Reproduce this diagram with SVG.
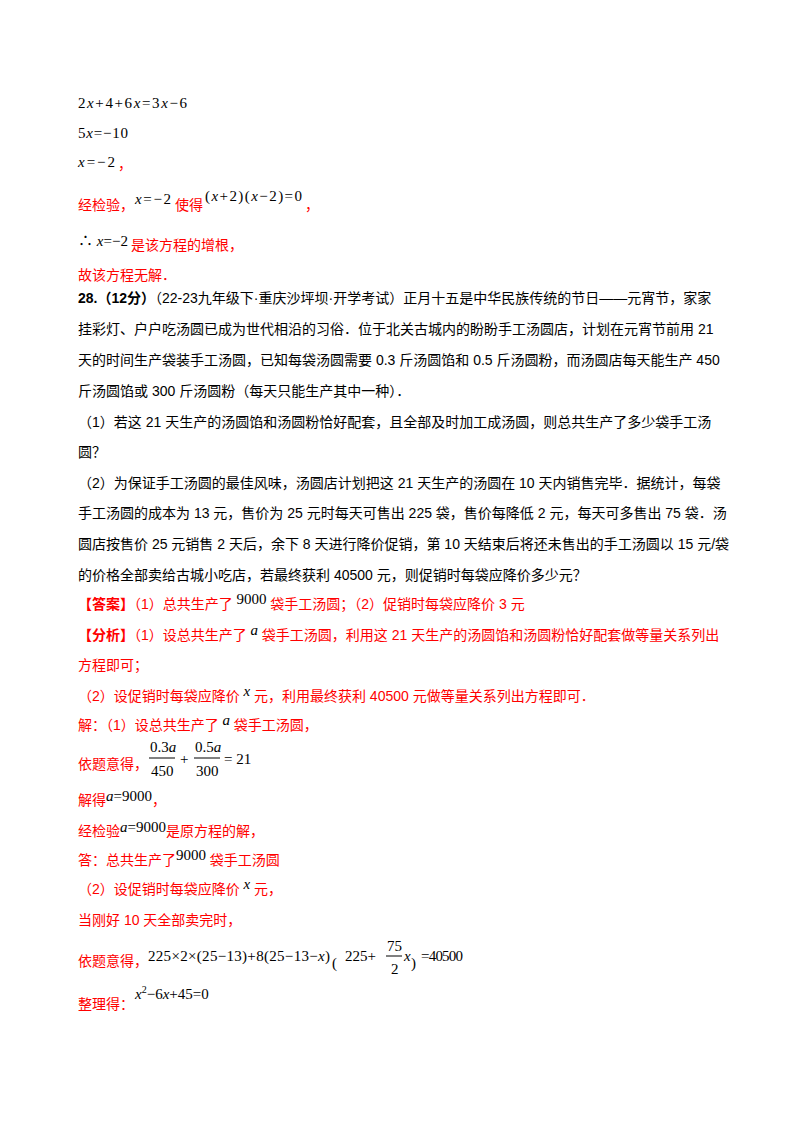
<svg xmlns="http://www.w3.org/2000/svg" width="800" height="1132" viewBox="0 0 800 1132">
<style>
text{font-family:"Liberation Sans","Noto Sans CJK SC",sans-serif;font-size:14px;fill:#000}
.r{fill:#ff0000}
.m{font-family:"Liberation Serif","Noto Sans CJK SC",serif;font-size:15px;fill:#000}
.i{font-style:italic}
.b{font-weight:bold}
</style>
<rect width="800" height="1132" fill="#fff"/>
<g id="top">
<text class="m" x="78" y="108" textLength="109">2<tspan class="i">x</tspan>+4+6<tspan class="i">x</tspan>=3<tspan class="i">x</tspan>−6</text>
<text class="m" x="78" y="138" textLength="50">5<tspan class="i">x</tspan>=−10</text>
<text class="m" x="78" y="167" textLength="37"><tspan class="i">x</tspan>=−2</text>
<text class="r" x="118" y="169">，</text>
<text class="r" x="78" y="210">经检验，</text>
<text class="m" x="135" y="204" textLength="36"><tspan class="i">x</tspan>=−2</text>
<text class="r" x="175" y="210">使得</text>
<text class="m" x="205" y="201" textLength="97">(<tspan class="i">x</tspan>+2)(<tspan class="i">x</tspan>−2)=0</text>
<text class="r" x="305" y="210">，</text>
<text class="m" x="78" y="246" textLength="50">∴ <tspan class="i">x</tspan>=−2</text>
<text class="r" x="131" y="250">是该方程的增根，</text>
<text class="r" x="78" y="280">故该方程无解．</text>
</g>
<g id="problem">
<text x="78" y="303"><tspan class="b">28.（12分）</tspan>（22-23九年级下·重庆沙坪坝·开学考试）正月十五是中华民族传统的节日——元宵节，家家</text>
<text x="78" y="334">挂彩灯、户户吃汤圆已成为世代相沿的习俗．位于北关古城内的盼盼手工汤圆店，计划在元宵节前用 21</text>
<text x="78" y="365">天的时间生产袋装手工汤圆，已知每袋汤圆需要 0.3 斤汤圆馅和 0.5 斤汤圆粉，而汤圆店每天能生产 450</text>
<text x="78" y="396">斤汤圆馅或 300 斤汤圆粉（每天只能生产其中一种）．</text>
<text x="78" y="427">（1）若这 21 天生产的汤圆馅和汤圆粉恰好配套，且全部及时加工成汤圆，则总共生产了多少袋手工汤</text>
<text x="78" y="457">圆？</text>
<text x="78" y="488">（2）为保证手工汤圆的最佳风味，汤圆店计划把这 21 天生产的汤圆在 10 天内销售完毕．据统计，每袋</text>
<text x="78" y="518">手工汤圆的成本为 13 元，售价为 25 元时每天可售出 225 袋，售价每降低 2 元，每天可多售出 75 袋．汤</text>
<text x="78" y="549">圆店按售价 25 元销售 2 天后，余下 8 天进行降价促销，第 10 天结束后将还未售出的手工汤圆以 15 元/袋</text>
<text x="78" y="580">的价格全部卖给古城小吃店，若最终获利 40500 元，则促销时每袋应降价多少元？</text>
</g>
<g id="answer">
<text class="r" x="78" y="609"><tspan class="b">【答案】</tspan>（1）总共生产了<tspan class="m" dy="-5"> 9000 </tspan><tspan dy="5">袋手工汤圆；（2）促销时每袋应降价 3 元</tspan></text>
<text class="r" x="78" y="640"><tspan class="b">【分析】</tspan>（1）设总共生产了<tspan class="m i" dy="-5"> a </tspan><tspan dy="5">袋手工汤圆，利用这 21 天生产的汤圆馅和汤圆粉恰好配套做等量关系列出</tspan></text>
<text class="r" x="78" y="670">方程即可；</text>
<text class="r" x="78" y="701">（2）设促销时每袋应降价<tspan class="m i" dy="-5"> x </tspan><tspan dy="5">元，利用最终获利 40500 元做等量关系列出方程即可．</tspan></text>
<text class="r" x="78" y="730">解：（1）设总共生产了<tspan class="m i" dy="-5"> a </tspan><tspan dy="5">袋手工汤圆，</tspan></text>
<text class="r" x="78" y="769">依题意得，</text>
<text class="m" x="150" y="752">0.3<tspan class="i">a</tspan></text>
<line x1="149" y1="758" x2="175" y2="758" stroke="#000" stroke-width="1"/>
<text class="m" x="151" y="776">450</text>
<text class="m" x="180" y="764">+</text>
<text class="m" x="195" y="752">0.5<tspan class="i">a</tspan></text>
<line x1="194" y1="758" x2="220" y2="758" stroke="#000" stroke-width="1"/>
<text class="m" x="196" y="776">300</text>
<text class="m" x="224" y="764">= 21</text>
<text class="r" x="78" y="805">解得<tspan class="m" dy="-4"><tspan class="i">a</tspan>=9000</tspan><tspan dy="4">，</tspan></text>
<text class="r" x="78" y="836">经检验<tspan class="m" dy="-4"><tspan class="i">a</tspan>=9000</tspan><tspan dy="4">是原方程的解，</tspan></text>
<text class="r" x="78" y="865">答：总共生产了<tspan class="m" dy="-5">9000 </tspan><tspan dy="5">袋手工汤圆</tspan></text>
<text class="r" x="78" y="894">（2）设促销时每袋应降价<tspan class="m i" dy="-5"> x </tspan><tspan dy="5">元，</tspan></text>
<text class="r" x="78" y="925">当刚好 10 天全部卖完时，</text>
<text class="r" x="78" y="966">依题意得，</text>
<text class="m" x="148" y="961" textLength="182">225×2×(25−13)+8(25−13−<tspan class="i">x</tspan>)</text>
<text class="m" x="332" y="968" font-size="28">(</text>
<text class="m" x="345" y="961">225+</text>
<text class="m" x="387" y="951">75</text>
<line x1="386" y1="956" x2="402" y2="956" stroke="#000" stroke-width="1"/>
<text class="m" x="391" y="974">2</text>
<text class="m i" x="404" y="961">x</text>
<text class="m" x="411" y="968" font-size="28">)</text>
<text class="m" x="421" y="961" textLength="42">=40500</text>
<text class="r" x="78" y="1009">整理得：</text>
<text class="m" x="135" y="999"><tspan class="i">x</tspan><tspan font-size="10" dy="-6">2</tspan><tspan dy="6">−6<tspan class="i">x</tspan>+45=0</tspan></text>
</g>
</svg>
